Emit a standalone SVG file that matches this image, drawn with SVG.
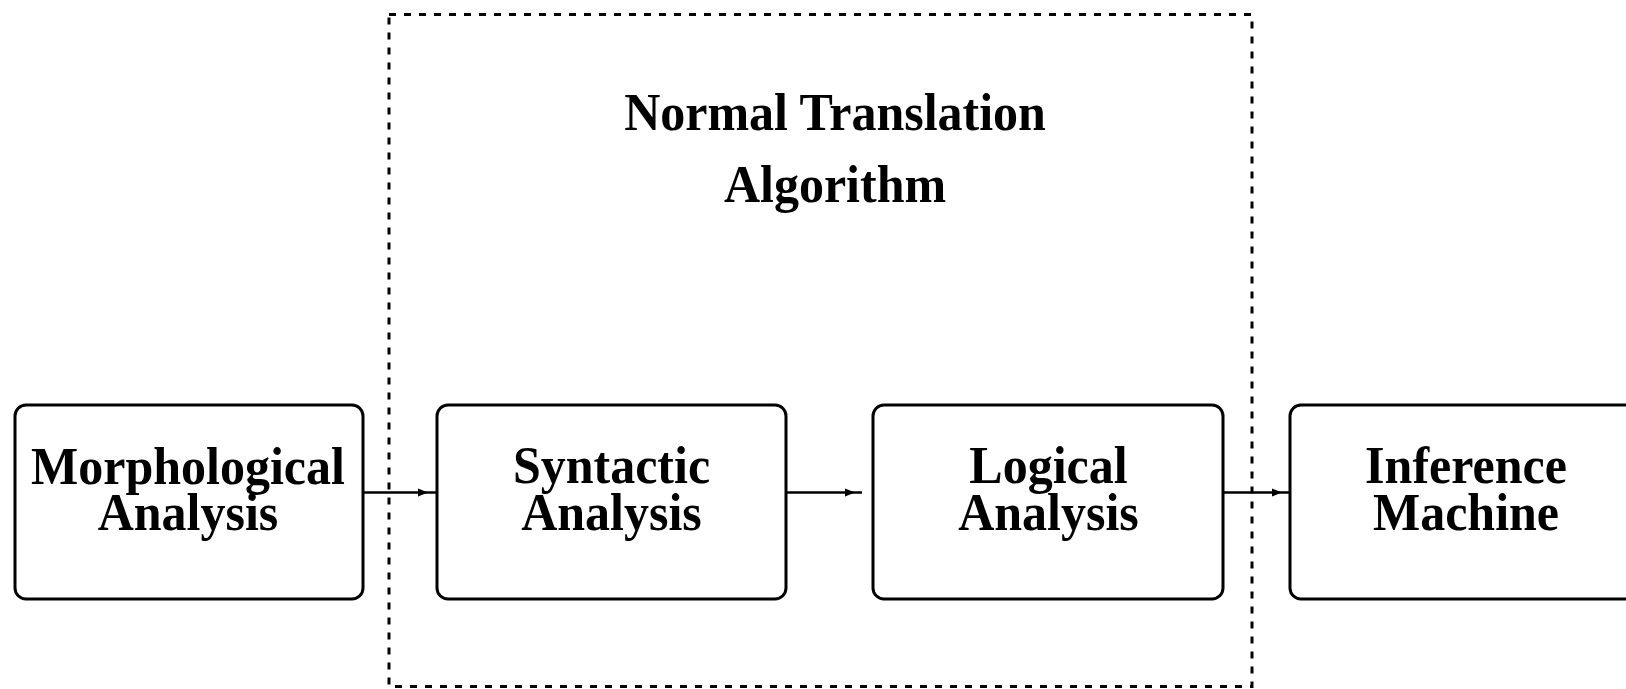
<svg xmlns="http://www.w3.org/2000/svg" xmlns:xlink="http://www.w3.org/1999/xlink" width="1626" height="689" viewBox="0 0 1626 689">
  <style>
    .box { fill: #ffffff; stroke: #000000; stroke-width: 3; }
    .frame { fill: none; stroke: #000000; stroke-width: 3; stroke-dasharray: 7 8; }
    .wire { fill: none; stroke: #000000; stroke-width: 2.5; }
    .label { font-family: "Liberation Serif", "Times New Roman", serif; font-weight: bold; font-size: 50px; fill: #000000; text-anchor: middle; }
  </style>
  <defs>
    <!-- small filled head, tip at origin, pointing right -->
    <polygon id="head" points="0,0 -10,-4 -10,4" fill="#000000"/>
  </defs>

  <rect width="1626" height="689" fill="#ffffff"/>

  <!-- dashed frame around the translation stages -->
  <g id="normal-translation-algorithm">
    <rect class="frame" x="389" y="14.5" width="863" height="672"/>
    <text class="label" transform="translate(835,130) scale(1,1.06)">Normal Translation</text>
    <text class="label" transform="translate(835,202) scale(1,1.06)">Algorithm</text>
  </g>

  <!-- connectors -->
  <g id="connectors">
    <line class="wire" x1="362" y1="492.5" x2="437" y2="492.5"/>
    <use xlink:href="#head" x="428" y="492.5"/>
    <line class="wire" x1="786" y1="492.5" x2="862" y2="492.5"/>
    <use xlink:href="#head" x="855" y="492.5"/>
    <line class="wire" x1="1212" y1="492.5" x2="1290" y2="492.5"/>
    <use xlink:href="#head" x="1282" y="492.5"/>
  </g>

  <g id="morphological-analysis">
    <rect class="box" x="15" y="405" width="348" height="194" rx="11"/>
    <text class="label" transform="translate(188,484) scale(1,1.06)">Morphological</text>
    <text class="label" transform="translate(188,530) scale(1,1.06)">Analysis</text>
  </g>

  <g id="syntactic-analysis">
    <rect class="box" x="437" y="405" width="349" height="194" rx="11"/>
    <text class="label" transform="translate(611.5,483) scale(1,1.06)">Syntactic</text>
    <text class="label" transform="translate(611.5,530) scale(1,1.06)">Analysis</text>
  </g>

  <g id="logical-analysis">
    <rect class="box" x="873" y="405" width="350" height="194" rx="11"/>
    <text class="label" transform="translate(1048.5,483) scale(1,1.06)">Logical</text>
    <text class="label" transform="translate(1048.5,530) scale(1,1.06)">Analysis</text>
  </g>

  <g id="inference-machine">
    <rect class="box" x="1290" y="405" width="350" height="194" rx="11"/>
    <text class="label" transform="translate(1466,483) scale(1,1.06)">Inference</text>
    <text class="label" transform="translate(1466,530) scale(1,1.06)">Machine</text>
  </g>
</svg>
